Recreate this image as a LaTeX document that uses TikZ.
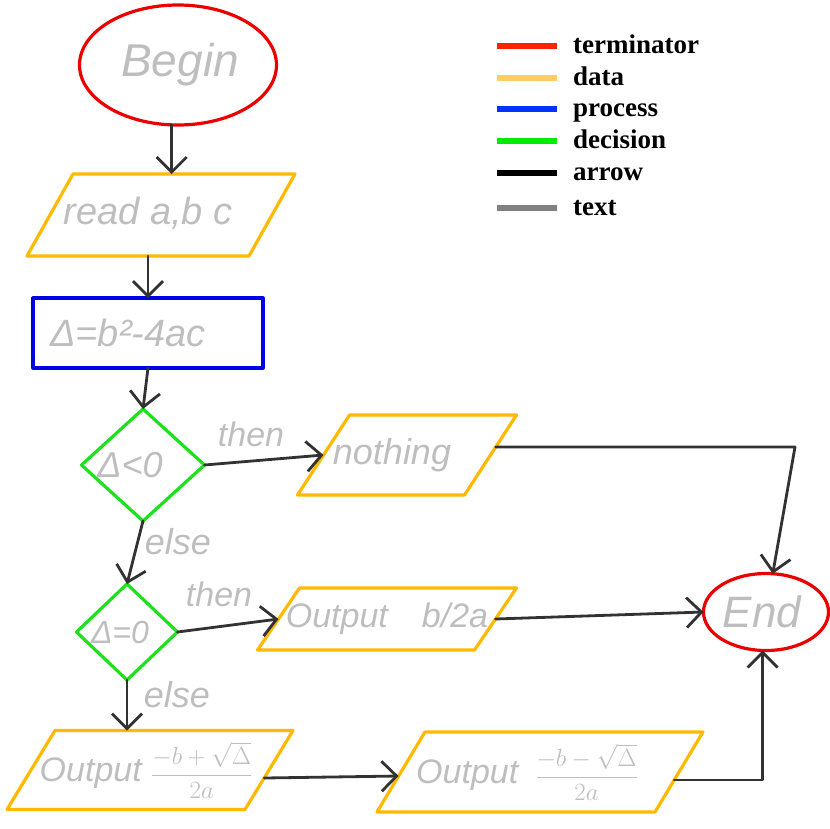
\documentclass[tikz,border=0pt]{standalone}
\usepackage{fontspec}
\setmainfont{Liberation Serif}
\newfontfamily\handfont{Liberation Sans}
\usetikzlibrary{shapes.geometric,arrows.meta}
\definecolor{termred}{RGB}{235,0,0}
\definecolor{dataor}{RGB}{255,185,0}
\definecolor{procblue}{RGB}{0,0,230}
\definecolor{decgreen}{RGB}{30,225,30}
\definecolor{arrgray}{RGB}{50,50,50}
\definecolor{txtgray}{RGB}{190,190,190}
\definecolor{kred}{RGB}{255,35,0}
\definecolor{kdata}{RGB}{255,204,102}
\definecolor{kblue}{RGB}{0,51,255}
\definecolor{kgreen}{RGB}{0,235,0}
\definecolor{kgray}{RGB}{128,128,128}
\newcommand\hsz[1]{\handfont\itshape\fontsize{#1}{#1}\selectfont}
\newcommand\zb[2]{\makebox[0pt]{\hspace*{#1}#2}}
\begin{document}
\begin{tikzpicture}[x=1pt,y=-1pt, line cap=round, line join=round,
  shp/.style={draw, line width=3.2pt, inner sep=0pt, outer sep=0pt, text=txtgray},
  term/.style={shp, ellipse, draw=termred},
  dataline/.style={draw=dataor, line width=3.2pt},
  proc/.style={shp, rectangle, draw=procblue},
  dec/.style={shp, diamond, draw=decgreen},
  txt/.style={text=txtgray, inner sep=0pt},
  arr/.style={draw=arrgray, line width=2.8pt, -{Straight Barb[length=15pt,width=30pt]}},
  lbl/.style={text=txtgray, inner sep=0pt},
  keyline/.style={line width=6pt, line cap=butt},
  keytext/.style={anchor=base west, inner sep=0pt, font=\fontsize{27}{30}\selectfont\bfseries}
]
\useasboundingbox (0,0) rectangle (830,828);

% terminators, process, decisions
\node[term, minimum width=197pt, minimum height=120pt, font=\hsz{46}] (begin) at (178,65) {\zb{4pt}{Begin}};
\node[proc, minimum width=230pt, minimum height=70pt, font=\hsz{38}] (proc) at (148,333) {\zb{-40pt}{Δ=b²-4ac}};
\node[dec, minimum width=123pt, minimum height=112pt, font=\hsz{36}] (d1) at (143,465) {\zb{-26pt}{Δ<0}};
\node[dec, minimum width=101pt, minimum height=96pt, font=\hsz{32}] (d2) at (127,632) {\zb{-14pt}{Δ=0}};
\node[term, minimum width=125pt, minimum height=77pt, font=\hsz{44}] (end) at (766,612) {\zb{-8pt}{End}};

% data (parallelograms)
\draw[dataline] (27,256) -- (249,256) -- (295,174) -- (73,174) -- cycle;
\node[txt, font=\hsz{38}] (read) at (148,213) {read a,b c};
\coordinate (readT) at (161,174);
\coordinate (readB) at (148,256);

\draw[dataline] (297.5,495) -- (464.5,495) -- (516.5,415) -- (349.5,415) -- cycle;
\node[txt, font=\hsz{36}] (nothing) at (392,455) {nothing};
\coordinate (nothingL) at (323.5,455);
\coordinate (nothingR) at (495.7,447);

\draw[dataline] (257.5,650) -- (474.5,650) -- (516.5,588) -- (299.5,588) -- cycle;
\node[txt, font=\hsz{34}] (outb) at (387,619) {Output\quad b/2a};
\coordinate (outbL) at (278.5,619);
\coordinate (outbR) at (495.5,619);

\draw[dataline] (7,809.5) -- (245,809.5) -- (293,730.5) -- (55,730.5) -- cycle;
\node[txt, font=\hsz{34}] (out1) at (146,770) {Output {\fontsize{25}{28}\selectfont$\displaystyle\frac{-b+\sqrt{\Delta}}{2a}$}};
\coordinate (out1T) at (150,730.5);
\coordinate (out1R) at (264.2,778);

\draw[dataline] (377,812) -- (655,812) -- (703,732) -- (425,732) -- cycle;
\node[txt, font=\hsz{34}] (out2) at (527,772) {Output\enspace{\fontsize{26}{28}\selectfont$\displaystyle\frac{-b-\sqrt{\Delta}}{2a}$}};
\coordinate (out2L) at (398.6,776);
\coordinate (out2R) at (674.2,780);

% labels
\node[lbl, font=\hsz{34}] (then1) at (251,434) {then};
\node[lbl, font=\hsz{36}] (else1) at (178,542) {else};
\node[lbl, font=\hsz{34}] (then2) at (219,594) {then};
\node[lbl, font=\hsz{36}] (else2) at (177,695) {else};

% connectors
\draw[arr] (begin.-96) -- (begin.-96 |- readT);
\draw[arr] (readB) -- (proc.north);
\draw[arr] (proc.south) -- (d1.north);
\draw[arr] (d1.east) -- (nothingL);
\draw[arr] (d1.south) -- (d2.north);
\draw[arr] (d2.east) -- (outbL);
\draw[arr] (d2.south) -- (d2.south |- out1T);
\draw[arr] (out1R) -- (out2L);
\draw[arr] (outbR) -- (end.west);
\coordinate (c1) at (795,0);
\draw[arr] (nothingR) -- (nothingR -| c1) -- (end.80);
\draw[arr] (out2R) -| (end.-95);

% legend
\draw[keyline, kred]   (497,46)  -- (557,46);
\draw[keyline, kdata]  (497,78)  -- (557,78);
\draw[keyline, kblue]  (497,109) -- (557,109);
\draw[keyline, kgreen] (497,141) -- (557,141);
\draw[keyline, black]  (497,173) -- (557,173);
\draw[keyline, kgray]  (497,208) -- (557,208);
\node[keytext] (k1) at (573,53)  {terminator};
\node[keytext] (k2) at (573,85)  {data};
\node[keytext] (k3) at (573,116) {process};
\node[keytext] (k4) at (573,148) {decision};
\node[keytext] (k5) at (573,180) {arrow};
\node[keytext] (k6) at (573,215) {text};
\end{tikzpicture}
\end{document}
